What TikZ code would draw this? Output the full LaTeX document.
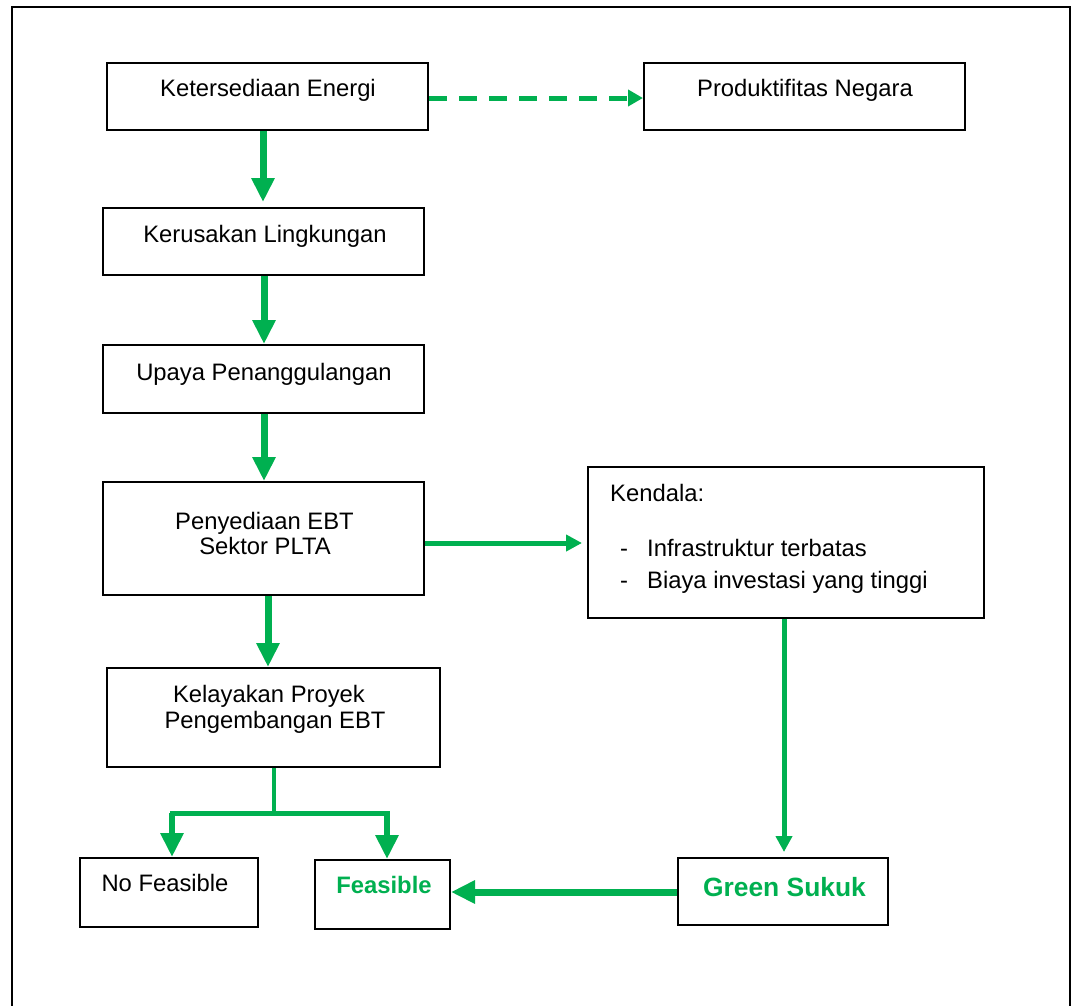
\documentclass[tikz,border=0pt]{standalone}
\usepackage{fontspec}
\setmainfont{Liberation Sans}
\usetikzlibrary{arrows.meta,calc}
\definecolor{offgreen}{HTML}{00B050}
\begin{document}
\begin{tikzpicture}[x=1pt,y=-1pt,
  box/.style={draw=black,line width=2pt,fill=white,inner sep=0pt,rectangle},
  txt/.style={anchor=base,inner sep=0pt,font=\fontsize{23.8}{26}\selectfont},
  gtxt/.style={anchor=base,inner sep=0pt,text=offgreen,font=\bfseries\fontsize{23.8}{26}\selectfont},
  bigarrow/.style={draw=offgreen,line width=7pt,-{Triangle[width=22pt,length=24pt]}},
  thinarrow/.style={draw=offgreen,line width=5pt,-{Triangle[width=16pt,length=16pt]}},
  dasharrow/.style={draw=offgreen,line width=5pt,dash pattern=on 18pt off 12pt,-{Triangle[width=16pt,length=15pt]}},
]
\useasboundingbox (0,0) rectangle (1076,1005);
\fill[white] (0,0) rectangle (1076,1005);
% outer frame
\draw[line width=2pt] (12,1006) -- (12,7) -- (1070,7) -- (1070,1006);

% boxes
\node[box,minimum width=321pt,minimum height=67pt] (ke) at (267.5,96.5) {};
\node[box,minimum width=321pt,minimum height=67pt] (pn) at (804.5,96.5) {};
\node[box,minimum width=321pt,minimum height=67pt] (kl) at (263.5,241.5) {};
\node[box,minimum width=321pt,minimum height=68pt] (up) at (263.5,379) {};
\node[box,minimum width=321pt,minimum height=113pt] (pe) at (263.5,538.5) {};
\node[box,minimum width=396pt,minimum height=151pt] (kd) at (786,542.5) {};
\node[box,minimum width=333pt,minimum height=99pt] (kp) at (273.5,717.5) {};
\node[box,minimum width=178pt,minimum height=69pt] (nf) at (169,892.5) {};
\node[box,minimum width=135pt,minimum height=69pt] (fs) at (382.5,894.5) {};
\node[box,minimum width=210pt,minimum height=67pt] (gs) at (783,891.5) {};

% texts
\node[txt] (t1) at (268,96) {Ketersediaan Energi};
\node[txt] (t2) at (805,96) {Produktifitas Negara};
\node[txt] (t3) at (265,242) {Kerusakan Lingkungan};
\node[txt] (t4) at (264,380) {Upaya Penanggulangan};
\node[txt] (t5) at (264.5,529) {Penyediaan EBT};
\node[txt] (t6) at (265,554) {Sektor PLTA};
\node[txt,anchor=base west] (t7) at (610,501) {Kendala:};
\node[txt,anchor=base west] (t8a) at (620,556) {-};
\node[txt,anchor=base west] (t8) at (647,556) {Infrastruktur terbatas};
\node[txt,anchor=base west] (t9a) at (620,588) {-};
\node[txt,anchor=base west] (t9) at (647,588) {Biaya investasi yang tinggi};
\node[txt] (t10) at (269,702) {Kelayakan Proyek};
\node[txt] (t11) at (275,728) {Pengembangan EBT};
\node[txt] (t12) at (165,891) {No Feasible};
\node[gtxt] (t13) at (384,893) {Feasible};
\node[gtxt,font=\bfseries\fontsize{26.4}{28}\selectfont] (t14) at (784.5,896) {Green Sukuk};

% connectors
\draw[dasharrow] (ke.east |- 0,98) -- (pn.west |- 0,98);
\draw[bigarrow,shorten >=5pt] (ke.south -| 263,0) -- (kl.north -| 263,0);
\draw[bigarrow] (kl.south -| 264,0) -- (up.north -| 264,0);
\draw[bigarrow] (up.south -| 264,0) -- (pe.north -| 264,0);
\draw[thinarrow,shorten >=5pt] (pe.east |- 0,543) -- (kd.west |- 0,543);
\draw[bigarrow] (pe.south -| 268,0) -- (kp.north -| 268,0);
\draw[thinarrow,shorten >=5pt] (kd.south -| 784,0) -- (gs.north -| 784,0);
\draw[bigarrow] (gs.west |- 0,892) -- (fs.east |- 0,892);
% branch
\coordinate (br) at (274,815);
\draw[draw=offgreen,line width=4.5pt] (kp.south -| 274,0) -- (br);
\draw[draw=offgreen,line width=5pt,line cap=rect] (172,813) -- (387,813);
\draw[bigarrow,line width=6pt] (172,813) -- (nf.north -| 172,0);
\draw[bigarrow,line width=6pt] (387,813) -- (fs.north -| 387,0);
\end{tikzpicture}
\end{document}
